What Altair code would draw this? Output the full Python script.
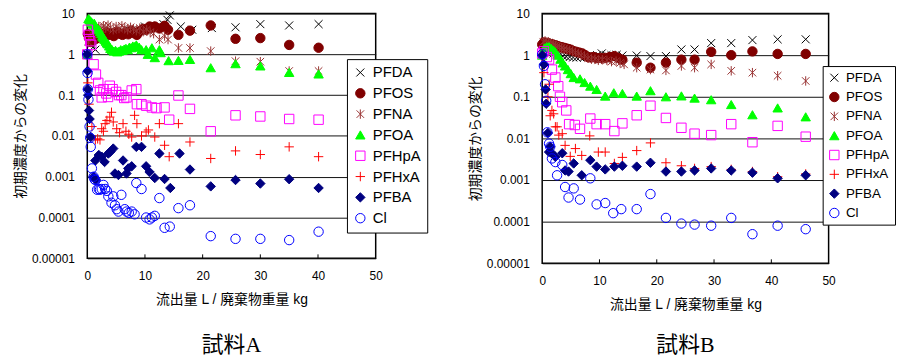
import altair as alt
import pandas as pd

FONT = "Liberation Sans, Noto Sans CJK JP, sans-serif"
SERIF = "Liberation Serif, Noto Sans CJK JP, serif"

SERIES = ["PFDA", "PFOS", "PFNA", "PFOA", "PFHpA", "PFHxA", "PFBA", "Cl"]
X_PATH = "M-0.85,-0.85L0.85,0.85M-0.85,0.85L0.85,-0.85"
AST_PATH = "M-0.8,-0.8L0.8,0.8M-0.8,0.8L0.8,-0.8M0,-1L0,1"
PLUS_PATH = "M-1,0L1,0M0,-1L0,1"
SHAPES = [X_PATH, "circle", AST_PATH, "triangle-up", "square", PLUS_PATH, "diamond", "circle"]
STROKES = ["#000000", "#800000", "#993333", "#00ff00", "#ff00ff", "#ff0000", "#000080", "#0000ff"]
FILLS = ["transparent", "#800000", "transparent", "#00ff00", "transparent", "transparent", "#000080", "transparent"]

X_TICKS = [0, 10, 20, 30, 40, 50]
X_INNER = [10, 20, 30, 40]
Y_TICKS = [0.00001, 0.0001, 0.001, 0.01, 0.1, 1, 10]
X_TITLE = "流出量 L / 廃棄物重量 kg"
Y_TITLE = "初期濃度からの変化"

# ---------------- 試料A ----------------
A_PFDA_x = [0, 0.3, 0.7, 1.0, 1.4, 1.8, 2.3, 2.8, 3.3, 3.8, 4.4, 5.0, 5.6, 6.2, 6.8, 7.4, 8.0, 8.6, 9.2, 10.0, 10.8, 11.6, 12.4, 13.2, 13.9, 14.3, 16.2, 18.2, 21.6, 25.7, 30.0, 35.0, 40.1]
A_PFDA_y = [1.0, 2.2, 1.8, 1.5, 1.3, 2.4, 2.8, 2.5, 3.0, 3.2, 2.9, 3.4, 3.1, 3.6, 3.3, 3.8, 3.5, 4.0, 3.7, 4.8, 4.2, 4.5, 5.0, 5.5, 7.0, 9.0, 4.8, 4.0, 4.4, 4.6, 5.5, 5.1, 5.5]
A_PFOS_x = [0.1, 0.3, 0.6, 0.9, 1.2, 1.5, 1.8, 2.1, 2.5, 2.9, 3.3, 3.7, 4.1, 4.6, 5.1, 5.6, 6.1, 6.6, 7.1, 7.6, 8.1, 8.6, 9.1, 9.7, 10.2, 10.8, 11.2, 11.7, 12.5, 13.4, 14.0, 15.8, 17.8, 21.4, 25.7, 30.0, 35.0, 40.1]
A_PFOS_y = [3.1, 2.5, 2.0, 2.2, 2.8, 2.4, 3.0, 2.6, 3.2, 2.9, 3.5, 3.0, 3.3, 2.8, 3.6, 3.2, 3.0, 3.4, 3.1, 3.8, 3.3, 3.0, 3.7, 4.2, 4.0, 4.8, 4.5, 4.8, 4.3, 5.0, 4.0, 3.0, 3.8, 5.1, 2.4, 2.5, 1.7, 1.45]
A_PFNA_x = [0.2, 0.5, 0.8, 1.1, 1.4, 1.7, 2.0, 2.4, 2.8, 3.2, 3.6, 4.0, 4.5, 5.0, 5.5, 6.0, 6.5, 7.0, 7.5, 8.0, 8.5, 9.1, 9.7, 10.3, 10.9, 11.5, 12.5, 13.4, 14.0, 15.8, 17.8, 21.4, 25.7, 30.0, 35.0, 40.1]
A_PFNA_y = [2.0, 2.6, 3.2, 3.8, 4.5, 4.0, 4.8, 4.2, 5.0, 4.4, 5.2, 4.6, 4.0, 4.8, 4.3, 5.0, 4.5, 4.0, 4.6, 4.2, 3.8, 4.4, 3.6, 4.0, 3.5, 3.2, 2.3, 2.8, 2.3, 1.43, 1.43, 1.2, 0.68, 0.66, 0.39, 0.39]
A_PFOA_x = [0, 0.2, 0.4, 0.6, 0.8, 1.0, 1.2, 1.4, 1.6, 1.8, 2.0, 2.2, 2.4, 2.6, 2.8, 3.0, 3.2, 3.4, 3.6, 3.8, 4.0, 4.3, 4.6, 4.9, 5.2, 5.5, 5.8, 6.1, 6.4, 6.7, 7.0, 7.3, 7.6, 7.9, 8.2, 8.5, 9.0, 9.4, 10.2, 10.5, 11.2, 11.7, 12.5, 12.7, 14.1, 15.8, 17.8, 21.4, 25.7, 30.0, 35.0, 40.1]
A_PFOA_y = [1.0, 7.5, 7.0, 6.5, 6.0, 5.5, 5.8, 5.0, 4.5, 4.2, 4.0, 3.6, 3.2, 2.8, 2.6, 2.3, 2.1, 1.9, 1.8, 1.6, 1.4, 1.3, 1.2, 1.25, 1.15, 1.2, 1.3, 1.25, 1.35, 1.4, 1.3, 1.5, 1.45, 1.6, 1.55, 1.7, 1.5, 1.3, 1.3, 1.0, 1.45, 0.83, 1.3, 1.1, 0.7, 0.71, 0.75, 0.47, 0.59, 0.52, 0.36, 0.33]
A_PFHpA_x = [0, 0.1, 0.3, 0.5, 0.7, 1.1, 1.5, 1.9, 2.2, 2.5, 2.8, 3.3, 3.6, 3.9, 4.4, 5.0, 5.5, 5.9, 6.4, 6.8, 7.7, 8.5, 8.6, 9.4, 10.2, 11.2, 12.0, 13.4, 14.2, 15.8, 17.8, 21.4, 25.7, 30.0, 35.0, 40.1]
A_PFHpA_y = [1.0, 4.0, 3.0, 2.1, 1.7, 0.57, 0.32, 0.2, 0.13, 0.088, 0.14, 0.11, 0.09, 0.17, 0.14, 0.12, 0.1, 0.1, 0.085, 0.088, 0.13, 0.14, 0.06, 0.06, 0.055, 0.05, 0.048, 0.05, 0.025, 0.098, 0.046, 0.013, 0.032, 0.03, 0.026, 0.025]
A_PFHxA_x = [0, 0.1, 0.3, 0.8, 1.4, 1.8, 2.2, 2.5, 2.8, 3.1, 3.4, 3.9, 4.2, 4.5, 5.1, 5.6, 6.2, 6.7, 7.2, 7.7, 8.2, 8.6, 9.4, 10.2, 10.6, 11.7, 12.5, 13.4, 14.2, 15.8, 17.8, 21.4, 25.7, 30.0, 35.0, 40.1]
A_PFHxA_y = [1.0, 0.2, 0.06, 0.017, 0.008, 0.0085, 0.008, 0.015, 0.013, 0.02, 0.024, 0.029, 0.038, 0.022, 0.015, 0.012, 0.02, 0.013, 0.011, 0.0094, 0.032, 0.02, 0.01, 0.0125, 0.014, 0.0094, 0.02, 0.0059, 0.0031, 0.02, 0.0071, 0.0028, 0.0043, 0.0035, 0.0054, 0.0031]
A_PFBA_x = [0, 0.05, 0.1, 0.15, 0.3, 0.4, 0.6, 1.1, 1.4, 1.5, 2.0, 2.5, 3.0, 3.65, 4.0, 4.5, 4.8, 5.4, 6.2, 6.8, 7.1, 7.7, 8.5, 9.4, 10.2, 10.8, 11.7, 12.5, 13.4, 14.4, 16.0, 17.8, 21.4, 25.7, 30.0, 35.0, 40.1]
A_PFBA_y = [1.0, 0.39, 0.14, 0.1, 0.042, 0.026, 0.0094, 0.001, 0.0025, 0.00083, 0.0034, 0.0031, 0.0023, 0.0037, 0.0041, 0.0049, 0.0012, 0.0011, 0.0025, 0.0012, 0.0016, 0.0018, 0.0054, 0.0054, 0.0018, 0.0013, 0.00093, 0.0037, 0.00088, 0.00053, 0.0037, 0.0015, 0.00058, 0.00083, 0.00068, 0.00087, 0.00053]
A_Cl_x = [0, 0.05, 0.1, 0.2, 0.4, 0.5, 0.6, 0.8, 1.1, 1.25, 1.4, 1.7, 2.0, 2.2, 2.5, 2.8, 3.1, 3.4, 3.65, 4.2, 4.5, 4.8, 5.1, 5.4, 5.9, 6.5, 6.8, 7.2, 7.7, 8.2, 8.5, 9.4, 10.2, 10.8, 11.2, 11.7, 12.5, 13.4, 14.3, 15.8, 17.8, 21.4, 25.7, 30.0, 35.0, 40.1]
A_Cl_y = [1.0, 0.35, 0.14, 0.078, 0.017, 0.009, 0.0054, 0.0016, 0.001, 0.00087, 0.00083, 0.00048, 0.0005, 0.00048, 0.0005, 0.00063, 0.0005, 0.00045, 0.00033, 0.00023, 0.00033, 0.0002, 0.00016, 0.00014, 0.00036, 0.00016, 0.00014, 0.00013, 0.00014, 0.00012, 0.0007, 0.0005, 0.0001, 0.00009, 0.0001, 0.00011, 0.0003, 0.000056, 0.00006, 0.00017, 0.0002, 0.000035, 0.00003, 0.00003, 0.000028, 0.000045]

# ---------------- 試料B ----------------
B_PFDA_x = [0.2, 0.6, 1.0, 1.5, 2.0, 2.5, 3.0, 3.6, 4.2, 4.8, 5.4, 6.0, 6.6, 7.3, 8.0, 8.8, 9.6, 10.4, 11.2, 12.1, 13.0, 14.0, 16.5, 18.9, 21.6, 24.3, 26.6, 29.5, 33.0, 36.7, 41.1, 46.0]
B_PFDA_y = [1.2, 1.3, 1.2, 1.15, 1.1, 1.05, 1.0, 0.95, 0.92, 0.9, 0.88, 0.87, 0.9, 0.88, 0.92, 0.95, 1.0, 1.1, 1.0, 1.0, 1.02, 0.98, 0.98, 0.95, 0.95, 1.37, 1.37, 1.95, 1.95, 2.3, 2.4, 2.4]
B_PFOS_x = [0, 0.3, 0.6, 0.9, 1.2, 1.5, 1.8, 2.1, 2.4, 2.7, 3.0, 3.4, 3.8, 4.2, 4.6, 5.0, 5.5, 6.0, 6.5, 7.0, 7.5, 8.0, 8.5, 9.0, 9.5, 10.2, 11.0, 11.8, 12.6, 13.3, 14.0, 16.5, 18.9, 21.6, 24.3, 26.6, 29.5, 33.0, 36.7, 41.1, 46.0]
B_PFOS_y = [1.8, 2.0, 2.0, 1.95, 1.9, 1.85, 1.8, 1.75, 1.7, 1.65, 1.6, 1.55, 1.5, 1.45, 1.4, 1.35, 1.25, 1.2, 1.15, 1.1, 1.0, 0.9, 0.88, 0.9, 0.85, 0.86, 0.86, 0.9, 0.95, 0.85, 0.78, 0.66, 0.5, 0.66, 0.78, 0.78, 1.2, 1.0, 1.23, 1.07, 1.07]
B_PFNA_x = [0.2, 0.5, 0.8, 1.1, 1.4, 1.7, 2.0, 2.3, 2.6, 3.0, 3.4, 3.8, 4.3, 4.8, 5.3, 5.8, 6.3, 6.8, 7.4, 8.0, 8.6, 9.2, 9.8, 10.5, 11.3, 12.1, 12.9, 13.6, 14.3, 16.5, 18.9, 21.6, 24.3, 26.6, 29.5, 33.0, 36.7, 41.1, 46.0]
B_PFNA_y = [2.1, 2.2, 2.0, 2.0, 1.9, 1.8, 1.8, 1.7, 1.6, 1.55, 1.5, 1.4, 1.35, 1.3, 1.25, 1.15, 1.1, 1.0, 0.95, 0.85, 0.8, 0.8, 0.75, 0.78, 0.75, 0.7, 0.72, 0.65, 0.6, 0.5, 0.45, 0.43, 0.55, 0.5, 0.6, 0.42, 0.38, 0.32, 0.24]
B_PFOA_x = [0, 0.4, 0.8, 1.2, 1.6, 2.0, 2.3, 2.7, 3.2, 3.6, 4.0, 4.5, 5.0, 5.5, 6.6, 7.4, 8.4, 9.5, 11.0, 12.5, 14.0, 16.5, 18.9, 21.6, 24.3, 26.6, 29.5, 33.0, 36.7, 41.1, 46.0]
B_PFOA_y = [1.0, 1.5, 1.6, 1.6, 1.45, 1.3, 1.2, 1.0, 0.8, 0.65, 0.55, 0.45, 0.36, 0.29, 0.27, 0.22, 0.18, 0.15, 0.104, 0.125, 0.12, 0.104, 0.14, 0.1, 0.105, 0.093, 0.085, 0.065, 0.037, 0.054, 0.033]
B_PFHpA_x = [0, 0.3, 0.8, 1.2, 1.7, 2.3, 2.8, 3.1, 3.5, 4.2, 4.7, 5.7, 6.6, 8.4, 9.5, 11.0, 12.6, 14.0, 16.5, 18.9, 21.6, 24.3, 26.6, 29.5, 33.0, 36.7, 41.1, 46.0]
B_PFHpA_y = [1.1, 1.25, 0.9, 0.79, 0.45, 0.29, 0.18, 0.1, 0.074, 0.047, 0.022, 0.021, 0.017, 0.03, 0.022, 0.022, 0.015, 0.023, 0.036, 0.061, 0.031, 0.018, 0.013, 0.012, 0.022, 0.0081, 0.02, 0.011]
B_PFHxA_x = [0, 0.3, 1.0, 1.2, 1.4, 1.7, 2.0, 2.3, 2.6, 2.9, 3.5, 4.0, 4.9, 5.8, 6.9, 8.3, 9.8, 11.0, 12.6, 14.0, 16.5, 18.9, 21.6, 24.3, 26.6, 29.5, 33.0, 36.7, 41.1, 46.0]
B_PFHxA_y = [1.0, 0.38, 0.1, 0.2, 0.035, 0.047, 0.039, 0.019, 0.019, 0.012, 0.013, 0.0068, 0.0037, 0.0057, 0.0039, 0.0115, 0.0047, 0.0047, 0.0025, 0.0035, 0.0051, 0.0078, 0.0026, 0.0022, 0.0019, 0.0021, 0.0018, 0.0016, 0.0012, 0.0014]
B_PFBA_x = [0, 0.3, 0.6, 0.7, 1.0, 1.2, 1.4, 1.7, 2.3, 3.5, 4.0, 4.6, 5.5, 6.9, 8.4, 9.5, 11.0, 12.6, 14.0, 16.5, 18.9, 21.6, 24.3, 26.6, 29.5, 33.0, 36.7, 41.1, 46.0]
B_PFBA_y = [1.0, 0.6, 0.15, 0.068, 0.0135, 0.0047, 0.0063, 0.0044, 0.0036, 0.0044, 0.0017, 0.0016, 0.0025, 0.0013, 0.003, 0.0021, 0.0018, 0.0021, 0.0022, 0.0021, 0.0026, 0.0016, 0.0016, 0.0017, 0.0019, 0.0017, 0.0015, 0.0011, 0.0013]
B_Cl_x = [0, 0.3, 0.5, 0.7, 0.9, 1.2, 1.4, 1.7, 2.3, 2.6, 3.5, 4.0, 4.6, 5.5, 6.6, 8.4, 9.5, 11.0, 12.4, 13.8, 16.5, 18.9, 21.6, 24.3, 26.6, 29.5, 33.0, 36.7, 41.1, 46.0]
B_Cl_y = [1.05, 0.55, 0.2, 0.08, 0.014, 0.0075, 0.0063, 0.0033, 0.0027, 0.0013, 0.0023, 0.00068, 0.00038, 0.00063, 0.00034, 0.0011, 0.00026, 0.00028, 0.00016, 0.0002, 0.0002, 0.00046, 0.000123, 0.00009, 0.000085, 0.00008, 0.000123, 0.00005, 0.00008, 0.000066]

PANEL_A = {
    "PFDA": (A_PFDA_x, A_PFDA_y), "PFOS": (A_PFOS_x, A_PFOS_y), "PFNA": (A_PFNA_x, A_PFNA_y),
    "PFOA": (A_PFOA_x, A_PFOA_y), "PFHpA": (A_PFHpA_x, A_PFHpA_y), "PFHxA": (A_PFHxA_x, A_PFHxA_y),
    "PFBA": (A_PFBA_x, A_PFBA_y), "Cl": (A_Cl_x, A_Cl_y),
}
PANEL_B = {
    "PFDA": (B_PFDA_x, B_PFDA_y), "PFOS": (B_PFOS_x, B_PFOS_y), "PFNA": (B_PFNA_x, B_PFNA_y),
    "PFOA": (B_PFOA_x, B_PFOA_y), "PFHpA": (B_PFHpA_x, B_PFHpA_y), "PFHxA": (B_PFHxA_x, B_PFHxA_y),
    "PFBA": (B_PFBA_x, B_PFBA_y), "Cl": (B_Cl_x, B_Cl_y),
}


def to_df(panel):
    rows = []
    for name in SERIES:
        xs, ys = panel[name]
        for xv, yv in zip(xs, ys):
            rows.append({"x": xv, "y": yv, "series": name})
    return pd.DataFrame(rows)


def make_panel(panel, w, h, lx, ly, lfont, lrow, lpad, title, toff):
    legend = alt.Legend(
        orient="none", legendX=lx, legendY=ly, title=None,
        strokeColor="black", fillColor="white", padding=lpad,
        labelFont=FONT, labelFontSize=lfont, labelColor="black",
        rowPadding=lrow, symbolSize=90, symbolStrokeWidth=1,
        labelOffset=5, cornerRadius=0, symbolOpacity=1,
    )
    pts = alt.Chart(to_df(panel)).mark_point(size=90, strokeWidth=1, opacity=1).encode(
        x=alt.X("x:Q", scale=alt.Scale(domain=[0, 50], nice=False, zero=False),
                axis=alt.Axis(values=X_TICKS, title=X_TITLE, grid=False, ticks=False,
                              domain=False, labelFlush=False, labelPadding=12, titlePadding=12)),
        y=alt.Y("y:Q", scale=alt.Scale(type="log", domain=[0.00001, 10], nice=False),
                axis=alt.Axis(values=Y_TICKS, format=".5~f", title=Y_TITLE, grid=True,
                              gridColor="#111111", gridWidth=1, gridOpacity=1, ticks=False,
                              domain=False, labelPadding=13, titlePadding=4)),
        shape=alt.Shape("series:N", scale=alt.Scale(domain=SERIES, range=SHAPES), legend=legend),
        stroke=alt.Stroke("series:N", scale=alt.Scale(domain=SERIES, range=STROKES), legend=legend),
        fill=alt.Fill("series:N", scale=alt.Scale(domain=SERIES, range=FILLS), legend=legend),
    )
    ticks = alt.Chart(pd.DataFrame({"x": X_INNER})).mark_rule(color="black", strokeWidth=1).encode(
        x="x:Q", y=alt.value(h), y2=alt.value(h - 4)
    )
    return alt.layer(pts, ticks).properties(
        width=w, height=h,
        title=alt.TitleParams(text=title, orient="bottom", font=SERIF, fontSize=22,
                              fontWeight="normal", color="black", offset=toff,
                              anchor="middle", frame="group"),
    )


panel_a = make_panel(PANEL_A, 291, 247, 262, 46, 15, 5, 6, "試料A", 29)
panel_b = make_panel(PANEL_B, 289, 252, 283, 53, 13.5, 4.5, 5, "試料B", 24)

chart = alt.hconcat(panel_a, panel_b, spacing=38).resolve_scale(
    x="independent", y="independent", shape="independent",
    stroke="independent", fill="independent",
).properties(
    padding={"left": 4, "top": -3, "right": 0, "bottom": 0}
).configure_axis(
    labelFont=FONT, titleFont=FONT, labelFontSize=12, titleFontSize=14,
    labelColor="black", titleColor="black", titleFontWeight="normal",
).configure_view(
    stroke="black", strokeWidth=1.5
)

chart.save("out.html", embed_options={"renderer": "svg", "actions": False})
